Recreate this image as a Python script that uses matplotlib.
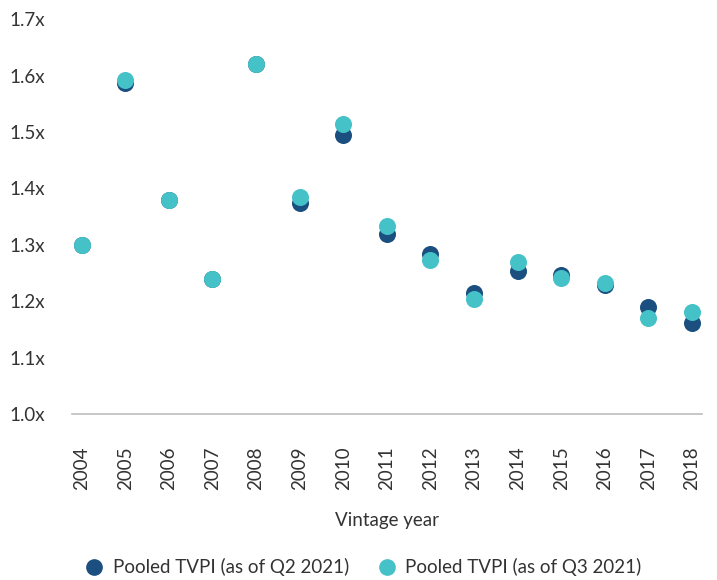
import matplotlib
matplotlib.use("Agg")
import matplotlib.pyplot as plt
from matplotlib.lines import Line2D

years = [2004, 2005, 2006, 2007, 2008, 2009, 2010, 2011, 2012, 2013, 2014, 2015, 2016, 2017, 2018]
tvpi_q2 = [1.30, 1.587, 1.38, 1.24, 1.62, 1.375, 1.495, 1.319, 1.284, 1.214, 1.254, 1.246, 1.228, 1.190, 1.162]
tvpi_q3 = [1.30, 1.593, 1.38, 1.24, 1.62, 1.384, 1.514, 1.333, 1.273, 1.204, 1.269, 1.242, 1.233, 1.171, 1.181]
yticks = [1.0, 1.1, 1.2, 1.3, 1.4, 1.5, 1.6, 1.7]
ytick_labels = ["1.0x", "1.1x", "1.2x", "1.3x", "1.4x", "1.5x", "1.6x", "1.7x"]
series_labels = ["Pooled TVPI (as of Q2 2021)", "Pooled TVPI (as of Q3 2021)"]

c_q2 = "#1a4f80"
c_q3 = "#45c1c8"
txt = "#333333"

plt.rcParams['font.family'] = ['Lato', 'DejaVu Sans']
plt.rcParams['font.weight'] = 'normal'

fig = plt.figure(figsize=(7.17, 5.8), dpi=100)
ax = fig.add_axes([0.1, 0.286, 0.879, 0.681])

ax.scatter(years, tvpi_q2, s=150, color=c_q2, zorder=3, linewidths=0)
ax.scatter(years, tvpi_q3, s=150, color=c_q3, zorder=4, linewidths=0)

ax.set_xlim(2003.77, 2018.23)
ax.set_ylim(1.0, 1.7)
ax.set_yticks(yticks)
ax.set_yticklabels(ytick_labels)
ax.set_xticks(years)
ax.set_xticklabels([str(y) for y in years], rotation=90)
ax.tick_params(axis='both', length=0, labelsize=13.5, colors=txt)
ax.tick_params(axis='y', pad=19)
ax.tick_params(axis='x', pad=23)
for lbl in ax.get_yticklabels():
    lbl.set_horizontalalignment('right')

for s in ['top', 'right', 'left']:
    ax.spines[s].set_visible(False)
ax.spines['bottom'].set_color('#bdbdbd')
ax.spines['bottom'].set_linewidth(1.2)

ax.set_xlabel("Vintage year", fontsize=13.5, color=txt, labelpad=16)

handles = [Line2D([0], [0], marker='o', linestyle='', markersize=11, color=c_q2),
           Line2D([0], [0], marker='o', linestyle='', markersize=11, color=c_q3)]
fig.legend(handles, series_labels, loc='center', bbox_to_anchor=(0.5, 0.022), ncol=2,
           frameon=False, fontsize=13.5, handletextpad=0.0, columnspacing=1.0,
           labelcolor=txt)

fig.savefig("out.png", dpi=100)
